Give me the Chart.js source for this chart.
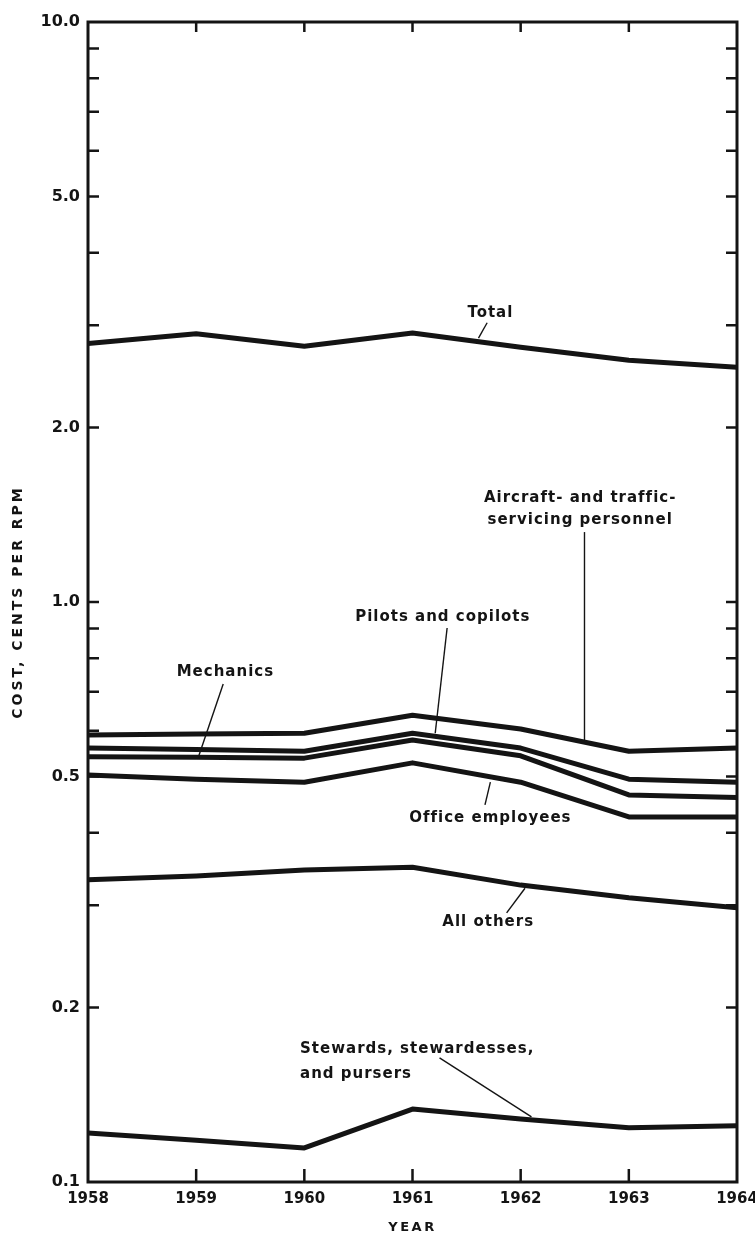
<!DOCTYPE html>
<html>
<head>
<meta charset="utf-8">
<title>Airline labor cost per RPM, 1958-1964</title>
<script src="https://cdn.jsdelivr.net/npm/chart.js@4.4.1/dist/chart.umd.min.js"></script>
<style>
  html, body { margin: 0; padding: 0; background: #fff; }
  #wrap { width: 755px; height: 1248px; }
</style>
</head>
<body>
<div id="wrap"><canvas id="costChart" width="755" height="1248"></canvas></div>
<script>
// cost, cents per revenue passenger mile
const years = [1958, 1959, 1960, 1961, 1962, 1963, 1964];
const total = [2.79, 2.90, 2.76, 2.91, 2.75, 2.61, 2.54];
const aircraftTraffic = [0.590, 0.592, 0.594, 0.638, 0.604, 0.553, 0.560];
const pilots = [0.560, 0.557, 0.553, 0.594, 0.560, 0.495, 0.489];
const mechanics = [0.541, 0.540, 0.538, 0.578, 0.543, 0.465, 0.460];
const office = [0.503, 0.495, 0.489, 0.528, 0.489, 0.426, 0.426];
const allOthers = [0.332, 0.337, 0.345, 0.349, 0.325, 0.309, 0.297];
const stewards = [0.1215, 0.118, 0.1145, 0.1336, 0.1284, 0.124, 0.125];

// log axis: tick marks at every 1-9 step, labels only on a few
const yTickValues = [0.1, 0.2, 0.3, 0.4, 0.5, 0.6, 0.7, 0.8, 0.9, 1, 2, 3, 4, 5, 6, 7, 8, 9, 10];
const yLabelValues = [0.1, 0.2, 0.5, 1, 2, 5, 10];
const yLabelTexts = ['0.1', '0.2', '0.5', '1.0', '2.0', '5.0', '10.0'];

const INK = '#141414';
const FONT = '"DejaVu Sans", sans-serif';

// series names with leader lines, anchored in [year, cost]
const notes = [
    { lines: ['Total'], at: [1961.72, 3.15], lead: [[1961.69, 3.03], [1961.61, 2.85]] },
    { lines: ['Aircraft- and traffic-', 'servicing personnel'], at: [1962.55, 1.511], gap: 22,
      lead: [[1962.59, 1.32], [1962.59, 0.578]] },
    { lines: ['Pilots and copilots'], at: [1961.28, 0.942], lead: [[1961.32, 0.902], [1961.21, 0.594]] },
    { lines: ['Mechanics'], at: [1959.27, 0.758], lead: [[1959.25, 0.722], [1959.02, 0.540]] },
    { lines: ['Office employees'], at: [1961.72, 0.424], lead: [[1961.72, 0.489], [1961.67, 0.447]] },
    { lines: ['All others'], at: [1961.70, 0.2807], lead: [[1962.04, 0.321], [1961.87, 0.291]] },
    { lines: ['Stewards, stewardesses,', 'and pursers'], at: [1959.96, 0.1696], gap: 25, align: 'left',
      lead: [[1961.25, 0.1637], [1962.10, 0.1295]] }
];

const seriesNames = ['Total', 'Aircraft- and traffic-servicing personnel', 'Pilots and copilots',
    'Mechanics', 'Office employees', 'All others', 'Stewards, stewardesses, and pursers'];
const seriesValues = [total, aircraftTraffic, pilots, mechanics, office, allOthers, stewards];

const framePlugin = {
    id: 'frame',
    afterDatasetsDraw(chart) {
        const { ctx, chartArea: a } = chart;
        const xs = chart.scales.x, ys = chart.scales.y;
        ctx.save();
        ctx.strokeStyle = INK;
        ctx.fillStyle = INK;

        // inward tick marks
        ctx.lineWidth = 2.5;
        ctx.beginPath();
        yTickValues.forEach(v => {
            if (v === 0.1 || v === 10) return;
            const y = ys.getPixelForValue(v);
            ctx.moveTo(a.left, y); ctx.lineTo(a.left + 11, y);
            ctx.moveTo(a.right, y); ctx.lineTo(a.right - 11, y);
        });
        years.slice(1, -1).forEach(yr => {
            const x = xs.getPixelForValue(yr);
            ctx.moveTo(x, a.bottom); ctx.lineTo(x, a.bottom - 13);
            ctx.moveTo(x, a.top); ctx.lineTo(x, a.top + 10);
        });
        ctx.stroke();

        // box
        ctx.lineWidth = 3;
        ctx.strokeRect(a.left, a.top, a.right - a.left, a.bottom - a.top);

        // leaders
        ctx.lineWidth = 1.4;
        notes.forEach(n => {
            ctx.beginPath();
            ctx.moveTo(xs.getPixelForValue(n.lead[0][0]), ys.getPixelForValue(n.lead[0][1]));
            ctx.lineTo(xs.getPixelForValue(n.lead[1][0]), ys.getPixelForValue(n.lead[1][1]));
            ctx.stroke();
        });

        // series labels
        ctx.font = 'bold 15px ' + FONT;
        ctx.letterSpacing = '1px';
        ctx.textBaseline = 'middle';
        notes.forEach(n => {
            ctx.textAlign = n.align || 'center';
            const x = xs.getPixelForValue(n.at[0]);
            const y = ys.getPixelForValue(n.at[1]);
            n.lines.forEach((t, i) => ctx.fillText(t, x, y + i * (n.gap || 0)));
        });

        // axis titles
        ctx.font = 'bold 14px ' + FONT;
        ctx.letterSpacing = '3px';
        ctx.textAlign = 'center';
        ctx.save();
        ctx.translate(18, (a.top + a.bottom) / 2);
        ctx.rotate(-Math.PI / 2);
        ctx.fillText('COST, CENTS PER RPM', 0, 0);
        ctx.restore();
        ctx.font = 'bold 13px ' + FONT;
        ctx.letterSpacing = '2.5px';
        ctx.fillText('YEAR', (a.left + a.right) / 2, 1228);
        ctx.restore();
    }
};

new Chart(document.getElementById('costChart'), {
    type: 'line',
    data: {
        datasets: seriesValues.map((vals, i) => ({
            label: seriesNames[i],
            data: years.map((yr, j) => ({ x: yr, y: vals[j] })),
            borderColor: INK,
            borderWidth: 5,
            borderJoinStyle: 'round',
            pointRadius: 0,
            tension: 0,
            fill: false
        }))
    },
    options: {
        responsive: false,
        devicePixelRatio: 1,
        animation: false,
        layout: { padding: { top: 22, right: 18, bottom: 0, left: 0 } },
        plugins: { legend: { display: false }, tooltip: { enabled: false } },
        scales: {
            x: {
                type: 'linear',
                min: 1958,
                max: 1964,
                afterBuildTicks: s => { s.ticks = years.map(v => ({ value: v })); },
                afterFit: s => { s.height = 66; s.paddingLeft = 0; s.paddingRight = 0; },
                grid: { display: false, drawTicks: false },
                border: { display: false },
                ticks: {
                    color: INK,
                    padding: 8,
                    autoSkip: false,
                    maxRotation: 0,
                    font: { family: FONT, size: 15, weight: 'bold' },
                    callback: v => String(v)
                }
            },
            y: {
                type: 'logarithmic',
                min: 0.1,
                max: 10,
                afterBuildTicks: s => { s.ticks = yTickValues.map(v => ({ value: v })); },
                afterFit: s => { s.width = 88; s.paddingTop = 0; s.paddingBottom = 0; },
                grid: { display: false, drawTicks: false },
                border: { display: false },
                ticks: {
                    color: INK,
                    padding: 8,
                    autoSkip: false,
                    font: { family: FONT, size: 16, weight: 'bold' },
                    callback: v => {
                        const i = yLabelValues.indexOf(v);
                        return i < 0 ? '' : yLabelTexts[i];
                    }
                }
            }
        }
    },
    plugins: [framePlugin]
});
</script>
</body>
</html>
